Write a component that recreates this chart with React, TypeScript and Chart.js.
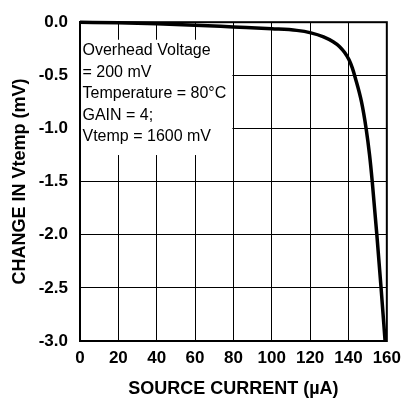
import React, { useEffect, useRef } from "react";
import { Chart, registerables } from "chart.js";

Chart.register(...registerables);

const currentUA = [0, 20, 40, 60, 80, 100, 113, 120.4, 127, 132, 135.4, 138, 140.3, 142, 143.5, 146.8, 149.2, 151.0, 152.4, 154.8, 157.0, 159.1];
const deltaVtemp = [0, -0.006, -0.015, -0.028, -0.045, -0.062, -0.077, -0.1, -0.138, -0.184, -0.23, -0.285, -0.353, -0.43, -0.52, -0.75, -1.0, -1.25, -1.5, -2.0, -2.5, -3.0];

const xTicks = [0, 20, 40, 60, 80, 100, 120, 140, 160];
const yTicks = [0, -0.5, -1.0, -1.5, -2.0, -2.5, -3.0];

const noteLines = ["Overhead Voltage", "= 200 mV", "Temperature = 80°C", "GAIN = 4;", "Vtemp = 1600 mV"];
const noteBox = { x0: 0, x1: 80, y0: -0.165, y1: -1.25 };

const FONT = "'Liberation Sans', Arial, sans-serif";

export default function App() {
  const ref = useRef<HTMLCanvasElement | null>(null);

  useEffect(() => {
    if (!ref.current) return;

    const notePlugin = {
      id: "notePlugin",
      beforeDatasetsDraw(chart: any) {
        const { ctx, scales } = chart;
        const xs = scales.x;
        const ys = scales.y;
        const left = xs.getPixelForValue(noteBox.x0) + 1;
        const right = xs.getPixelForValue(noteBox.x1) - 1;
        const top = ys.getPixelForValue(noteBox.y0);
        const bottom = ys.getPixelForValue(noteBox.y1);
        ctx.save();
        ctx.fillStyle = "#fff";
        ctx.fillRect(left, top, right - left, bottom - top);
        ctx.fillStyle = "#000";
        ctx.font = `16px ${FONT}`;
        ctx.textBaseline = "middle";
        ctx.textAlign = "left";
        noteLines.forEach((t, i) => {
          ctx.fillText(t, left + 1.5, top + 11 + i * 21.5);
        });
        ctx.restore();
      },
      afterDraw(chart: any) {
        const { ctx, chartArea } = chart;
        ctx.save();
        ctx.strokeStyle = "#000";
        ctx.lineWidth = 2;
        ctx.strokeRect(chartArea.left, chartArea.top, chartArea.right - chartArea.left, chartArea.bottom - chartArea.top);
        ctx.restore();
      },
    };

    const chart = new Chart(ref.current, {
      type: "line",
      data: {
        datasets: [
          {
            data: currentUA.map((x, i) => ({ x, y: deltaVtemp[i] })),
            borderColor: "#000",
            borderWidth: 3.5,
            pointRadius: 0,
            cubicInterpolationMode: "monotone",
            fill: false,
            clip: false as any,
          },
        ],
      },
      options: {
        animation: false,
        responsive: false,
        layout: { padding: { top: 15, right: 17, bottom: 0, left: 0 } },
        plugins: { legend: { display: false }, tooltip: { enabled: false } },
        scales: {
          x: {
            type: "linear",
            min: 0,
            max: 160,
            afterBuildTicks: (s: any) => {
              s.ticks = xTicks.map((v) => ({ value: v }));
            },
            afterFit: (s: any) => {
              s.height = 62;
            },
            grid: { color: "#000", lineWidth: 1, drawTicks: false },
            border: { color: "#000", width: 2 },
            ticks: {
              color: "#000",
              padding: 7,
              font: { family: FONT, size: 17, weight: "bold" },
              maxRotation: 0,
              autoSkip: false,
              callback: (v: any) => String(v),
            },
            title: {
              display: true,
              text: "SOURCE CURRENT (µA)",
              color: "#000",
              font: { family: FONT, size: 18, weight: "bold" },
              padding: { top: 0, bottom: 3 },
            },
          },
          y: {
            type: "linear",
            min: -3,
            max: 0,
            afterBuildTicks: (s: any) => {
              s.ticks = yTicks.map((v) => ({ value: v }));
            },
            afterFit: (s: any) => {
              s.width = 80;
            },
            grid: { color: "#000", lineWidth: 1, drawTicks: false },
            border: { color: "#000", width: 2 },
            ticks: {
              color: "#000",
              padding: 12,
              font: { family: FONT, size: 17, weight: "bold" },
              autoSkip: false,
              callback: (v: any) => Number(v).toFixed(1),
            },
            title: {
              display: true,
              text: "CHANGE IN Vtemp (mV)",
              color: "#000",
              font: { family: FONT, size: 18, weight: "bold" },
              padding: { top: 9, bottom: 0 },
            },
          },
        },
      },
      plugins: [notePlugin],
    });

    return () => chart.destroy();
  }, []);

  return (
    <div style={{ position: "fixed", left: 0, top: 0, width: 408, height: 403, background: "#fff" }}>
      <canvas ref={ref} width={408} height={403} style={{ width: 408, height: 403, display: "block" }} />
    </div>
  );
}
